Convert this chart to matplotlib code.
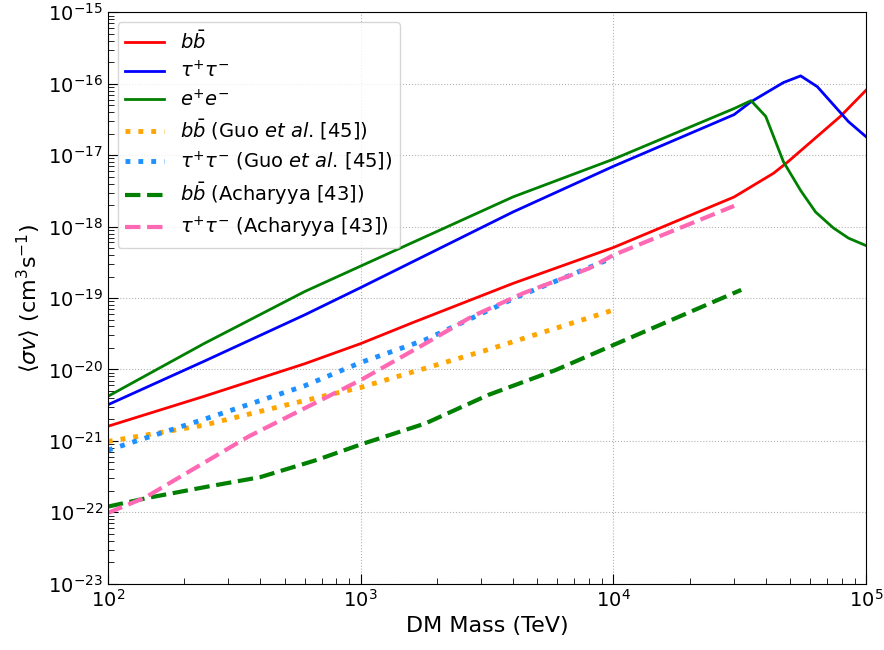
import numpy as np
import matplotlib
matplotlib.use("Agg")
import matplotlib.pyplot as plt
from matplotlib.ticker import LogLocator, NullFormatter

# this work
m_bb = [100, 240, 600, 1000, 1600, 4000, 10000, 30000, 43000, 49000, 79000, 100000]
sv_bb = [1.6e-21, 4.2e-21, 1.2e-20, 2.3e-20, 4.5e-20, 1.6e-19, 5.1e-19, 2.6e-18,
         5.6e-18, 8.1e-18, 3.5e-17, 8.2e-17]

m_tau = [100, 240, 600, 1000, 4000, 10000, 30000, 35000, 47000, 55000, 64000, 85000, 100000]
sv_tau = [3.2e-21, 1.3e-20, 5.8e-20, 1.4e-19, 1.6e-18, 7.0e-18, 3.7e-17, 5.6e-17,
          1.04e-16, 1.29e-16, 9.1e-17, 2.95e-17, 1.8e-17]

m_ee = [100, 240, 600, 1000, 4000, 10000, 30000, 35000, 40000, 47000, 55000, 63000,
        74000, 85000, 100000]
sv_ee = [4.2e-21, 2.3e-20, 1.23e-19, 2.8e-19, 2.6e-18, 8.8e-18, 4.5e-17, 5.8e-17,
         3.5e-17, 8.1e-18, 3.2e-18, 1.6e-18, 9.6e-19, 6.9e-19, 5.4e-19]

# Guo et al. [45]
m_guo_bb = [100, 240, 530, 1000, 3200, 10000]
sv_guo_bb = [9.8e-22, 1.66e-21, 3.3e-21, 5.6e-21, 1.9e-20, 6.8e-20]

m_guo_tau = [100, 130, 250, 600, 1000, 1800, 4200, 10000]
sv_guo_tau = [7.4e-22, 1.0e-21, 2.1e-21, 5.9e-21, 1.25e-20, 2.6e-20, 1.05e-19, 3.7e-19]

# Acharyya [43]
m_ach_bb = [100, 145, 250, 400, 670, 1000, 1800, 3200, 5900, 10000, 19700, 32000]
sv_ach_bb = [1.2e-22, 1.6e-22, 2.3e-22, 3.1e-22, 5.4e-22, 8.9e-22, 1.75e-21, 4.4e-21,
             9.8e-21, 2.2e-20, 6.2e-20, 1.3e-19]

m_ach_tau = [100, 140, 360, 1000, 1800, 2750, 4400, 8000, 10000, 30000]
sv_ach_tau = [9.8e-23, 1.6e-22, 1.15e-21, 7.1e-21, 2.3e-20, 5.5e-20, 1.17e-19, 2.6e-19,
              4.0e-19, 1.95e-18]

fig = plt.figure(figsize=(8.84, 6.5), dpi=100)
ax = fig.add_axes([0.122, 0.102, 0.858, 0.879])

ax.plot(m_bb, sv_bb, color="red", lw=2, label=r"$b\bar{b}$")
ax.plot(m_tau, sv_tau, color="blue", lw=2, label=r"$\tau^{+}\tau^{-}$")
ax.plot(m_ee, sv_ee, color="green", lw=2, label=r"$e^{+}e^{-}$")
ax.plot(m_guo_bb, sv_guo_bb, color="orange", lw=3.5, ls=":",
        label=r"$b\bar{b}$ (Guo $et~al$. [45])")
ax.plot(m_guo_tau, sv_guo_tau, color="dodgerblue", lw=3.5, ls=":",
        label=r"$\tau^{+}\tau^{-}$ (Guo $et~al$. [45])")
ax.plot(m_ach_bb, sv_ach_bb, color="green", lw=3, ls="--",
        label=r"$b\bar{b}$ (Acharyya [43])")
ax.plot(m_ach_tau, sv_ach_tau, color="hotpink", lw=3, ls="--",
        label=r"$\tau^{+}\tau^{-}$ (Acharyya [43])")

ax.set_xscale("log")
ax.set_yscale("log")
ax.set_xlim(1e2, 1e5)
ax.set_ylim(1e-23, 1e-15)
ax.yaxis.set_major_locator(LogLocator(base=10, numticks=20))
ax.yaxis.set_minor_locator(LogLocator(base=10, subs=np.arange(2, 10), numticks=100))
ax.yaxis.set_minor_formatter(NullFormatter())
ax.tick_params(which="both", direction="in", labelsize=14)
ax.tick_params(which="major", length=7)
ax.tick_params(which="minor", length=4)
ax.grid(True, which="major", ls=":", color="gray", alpha=0.6)

ax.set_xlabel("DM Mass (TeV)", fontsize=16)
ax.set_ylabel(r"$\langle\sigma v\rangle$ (cm$^3$s$^{-1}$)", fontsize=16)
ax.legend(loc="upper left", fontsize=14, labelspacing=0.38)

plt.savefig("out.png", format="png")
